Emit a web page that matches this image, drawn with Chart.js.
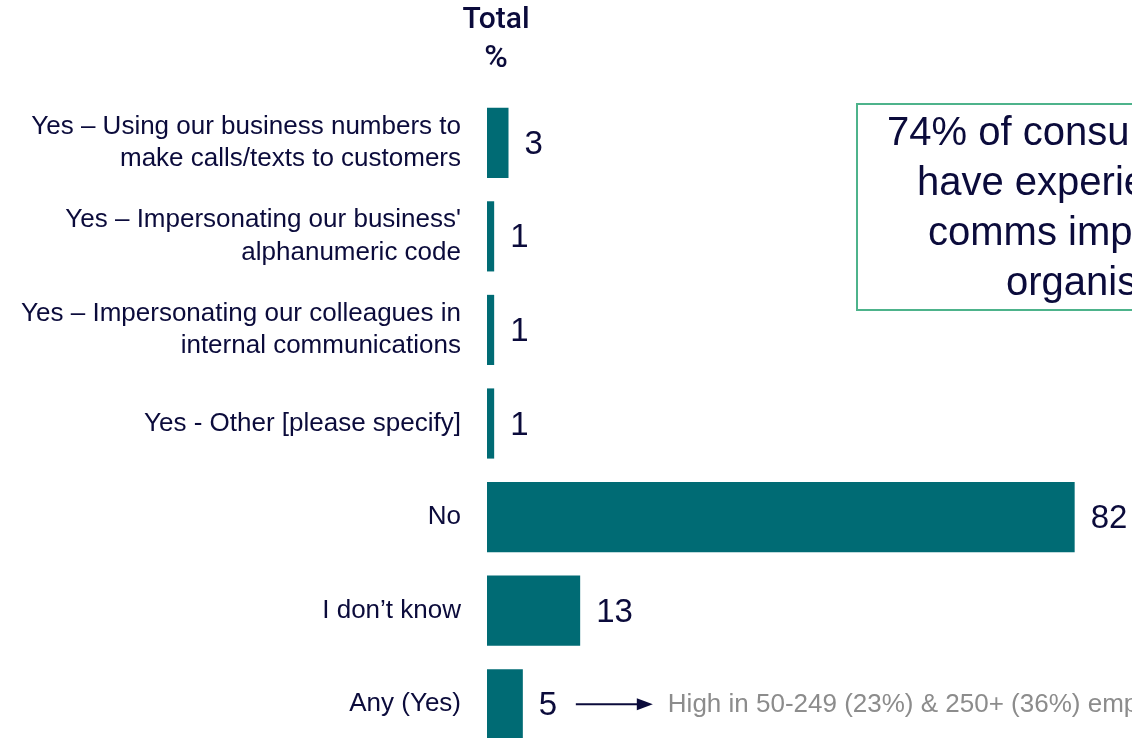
<!DOCTYPE html>
<html>
<head>
<meta charset="utf-8">
<script src="https://cdn.jsdelivr.net/npm/chart.js@4/dist/chart.umd.min.js"></script>
<style>
  html, body { margin: 0; padding: 0; background: #ffffff; overflow: hidden; }
  #wrap { width: 1132px; height: 738px; overflow: hidden; }
  canvas { display: block; }
</style>
</head>
<body>
<div id="wrap"><canvas id="c" width="1132" height="760"></canvas></div>
<script>
// Response categories (multi-line labels as arrays)
const categories = [
  ["Yes – Using our business numbers to", "make calls/texts to customers"],
  ["Yes – Impersonating our business'", "alphanumeric code"],
  ["Yes – Impersonating our colleagues in", "internal communications"],
  "Yes - Other [please specify]",
  "No",
  "I don’t know",
  "Any (Yes)"
];
// Total % per category
const totals = [3, 1, 1, 1, 82, 13, 5];
// Column header above the bars
const headerLines = ["Total", "%"];
// Callout text
const calloutLines = ["74% of consumers surveyed", "have experienced scam", "comms impersonating", "organisations"];
// Note next to the "Any (Yes)" bar
const anyYesNote = "High in 50-249 (23%) & 250+ (36%) employees";

const NAVY = '#0b0b3b';
const TEAL = '#006b74';
const FONT = '"Liberation Sans", Arial, sans-serif';

const overlay = {
  id: 'overlay',
  afterDraw(chart) {
    const ctx = chart.ctx;
    const meta = chart.getDatasetMeta(0);
    const area = chart.chartArea;
    ctx.save();

    // value labels at bar ends
    ctx.fillStyle = NAVY;
    ctx.font = '33px ' + FONT;
    ctx.textAlign = 'left';
    ctx.textBaseline = 'middle';
    meta.data.forEach((bar, i) => {
      ctx.fillText(String(totals[i]), bar.x + 16, bar.y + 2);
    });

    // column header
    ctx.textAlign = 'center';
    ctx.font = '500 30px Roboto, ' + FONT;
    const hx = area.left + 9;
    ctx.fillText(headerLines[0], hx, 20);
    ctx.font = '500 32px Roboto, ' + FONT;
    ctx.fillText(headerLines[1], hx, 59);

    // callout box
    ctx.strokeStyle = '#4db38b';
    ctx.lineWidth = 2;
    ctx.strokeRect(857, 104, 420, 206);
    ctx.fillStyle = NAVY;
    ctx.font = '40px ' + FONT;
    ctx.textAlign = 'left';
    const starts = [887, 917, 928, 1006];
    calloutLines.forEach((t, i) => ctx.fillText(t, starts[i], 134 + i * 50));

    // arrow + note for "Any (Yes)"
    const last = meta.data[meta.data.length - 1];
    const ay = last.y;
    const ax0 = last.x + 53;
    const ax1 = ax0 + 77;
    ctx.strokeStyle = NAVY;
    ctx.fillStyle = NAVY;
    ctx.lineWidth = 2;
    ctx.beginPath();
    ctx.moveTo(ax0, ay);
    ctx.lineTo(ax1 - 14, ay);
    ctx.stroke();
    ctx.beginPath();
    ctx.moveTo(ax1, ay);
    ctx.lineTo(ax1 - 16, ay - 6);
    ctx.lineTo(ax1 - 16, ay + 6);
    ctx.closePath();
    ctx.fill();

    ctx.fillStyle = '#8c8c8c';
    ctx.font = '26px ' + FONT;
    ctx.fillText(anyYesNote, ax1 + 15, ay + 1);

    ctx.restore();
  }
};

new Chart(document.getElementById('c'), {
  type: 'bar',
  data: {
    labels: categories,
    datasets: [{
      data: totals,
      backgroundColor: TEAL,
      borderWidth: 0,
      barPercentage: 0.75,
      categoryPercentage: 1.0
    }]
  },
  options: {
    indexAxis: 'y',
    responsive: false,
    animation: false,
    layout: { padding: { top: 96, bottom: 9, left: 0, right: 0 } },
    plugins: {
      legend: { display: false },
      tooltip: { enabled: false }
    },
    scales: {
      x: {
        display: false,
        min: 0,
        max: 90
      },
      y: {
        grid: { display: false, drawTicks: false },
        border: { display: false },
        ticks: {
          color: NAVY,
          padding: 26,
          font: { family: FONT, size: 26, lineHeight: 1.25 }
        },
        afterFit(scale) {
          scale.width = 487;
          scale.paddingTop = 0;
          scale.paddingBottom = 0;
        }
      }
    }
  },
  plugins: [overlay]
});
</script>
</body>
</html>
